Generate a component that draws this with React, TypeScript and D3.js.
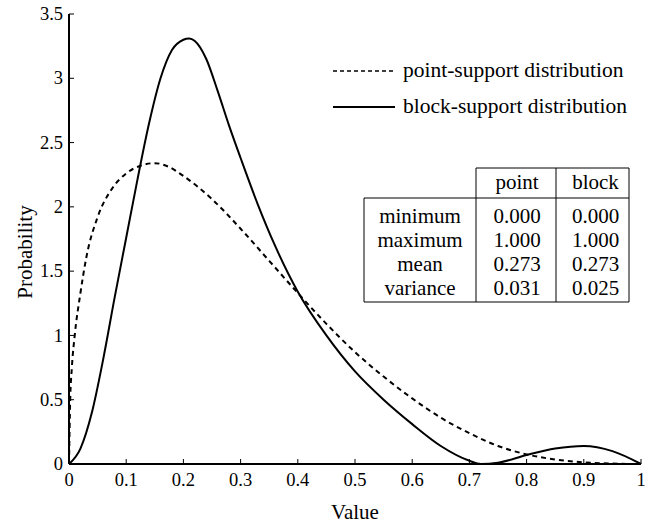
import React from "react";
import * as d3 from "d3";

// point-support distribution (dashed)
const pointX = [0, 0.002, 0.005, 0.01, 0.02, 0.03, 0.05, 0.075, 0.1, 0.125, 0.15, 0.175, 0.2, 0.25, 0.3, 0.35, 0.4, 0.45, 0.5, 0.55, 0.6, 0.65, 0.7, 0.75, 0.8, 0.85, 0.9, 0.95, 1];
const pointY = [0, 0.48, 0.75, 1.0, 1.33, 1.6, 1.92, 2.14, 2.26, 2.32, 2.34, 2.31, 2.24, 2.06, 1.83, 1.58, 1.33, 1.09, 0.87, 0.68, 0.51, 0.36, 0.24, 0.14, 0.075, 0.035, 0.013, 0.003, 0];

// block-support distribution (solid)
const blockX = [0, 0.02, 0.04, 0.06, 0.08, 0.1, 0.12, 0.14, 0.16, 0.18, 0.2, 0.21, 0.22, 0.24, 0.26, 0.28, 0.3, 0.33, 0.36, 0.4, 0.45, 0.5, 0.55, 0.6, 0.65, 0.7, 0.72, 0.75, 0.8, 0.85, 0.9, 0.95, 1];
const blockY = [0, 0.12, 0.4, 0.82, 1.3, 1.76, 2.22, 2.65, 3.0, 3.22, 3.3, 3.31, 3.29, 3.15, 2.9, 2.63, 2.38, 2.02, 1.7, 1.34, 1.0, 0.72, 0.5, 0.31, 0.14, 0.025, 0, 0.01, 0.07, 0.12, 0.14, 0.1, 0];

const xTicks = [0, 0.1, 0.2, 0.3, 0.4, 0.5, 0.6, 0.7, 0.8, 0.9, 1];
const yTicks = [0, 0.5, 1, 1.5, 2, 2.5, 3, 3.5];

const legendLabels = ["point-support distribution", "block-support distribution"];

const tableCols = ["point", "block"];
const tableRows = ["minimum", "maximum", "mean", "variance"];
const pointStats = ["0.000", "1.000", "0.273", "0.031"];
const blockStats = ["0.000", "1.000", "0.273", "0.025"];

const FONT = "Liberation Serif";
const W = 645, H = 527;
const margin = { left: 69, top: 14, right: 4, bottom: 63 };

export default function App() {
  const x = d3.scaleLinear().domain([0, 1]).range([margin.left, W - margin.right]);
  const y = d3.scaleLinear().domain([0, 3.5]).range([H - margin.bottom, margin.top]);

  const pointLine = d3
    .line<number>()
    .x(d => x(d))
    .y((d, i) => y(pointY[i]))
    .curve(d3.curveMonotoneX);
  const blockLine = d3
    .line<number>()
    .x(d => x(d))
    .y((d, i) => y(blockY[i]))
    .curve(d3.curveMonotoneX);

  // table frame
  const tL = 364, tC1 = 476, tC2 = 556, tR = 629, tTop = 168, tHead = 198, tBot = 302;
  const colCx = [(tC1 + tC2) / 2 + 1, (tC2 + tR) / 2 + 3];

  return (
    <svg width={W} height={H} style={{ position: "absolute", left: 0, top: 0, background: "#fff" }}>
      {/* curves */}
      <path d={pointLine(pointX) || ""} fill="none" stroke="#000" strokeWidth={2} strokeDasharray="5,4" />
      <path d={blockLine(blockX) || ""} fill="none" stroke="#000" strokeWidth={2} />

      {/* x axis */}
      <g transform={`translate(0,${y(0)})`}>
        <line x1={x(0)} x2={x(1)} stroke="#000" strokeWidth={2} />
        {xTicks.map(t => (
          <g key={t} transform={`translate(${x(t)},0)`}>
            <line y2={-5} stroke="#000" />
            <text y={22} textAnchor="middle" fontFamily={FONT} fontSize={18.5}>
              {String(t)}
            </text>
          </g>
        ))}
      </g>

      {/* y axis */}
      <g transform={`translate(${x(0)},0)`}>
        <line y1={y(0)} y2={y(3.5)} stroke="#000" strokeWidth={2} />
        {yTicks.map(t => (
          <g key={t} transform={`translate(0,${y(t)})`}>
            <line x2={5} stroke="#000" />
            <text x={-6} dy="0.33em" textAnchor="end" fontFamily={FONT} fontSize={18.5}>
              {String(t)}
            </text>
          </g>
        ))}
      </g>

      {/* axis titles */}
      <text x={(x(0) + x(1)) / 2} y={519} textAnchor="middle" fontFamily={FONT} fontSize={21}>
        Value
      </text>
      <text transform="translate(32,252) rotate(-90)" textAnchor="middle" fontFamily={FONT} fontSize={21}>
        Probability
      </text>

      {/* legend */}
      {legendLabels.map((label, i) => {
        const ly = 71 + i * 36;
        return (
          <g key={label}>
            <line
              x1={333}
              x2={395}
              y1={ly}
              y2={ly}
              stroke="#000"
              strokeWidth={i === 0 ? 1.6 : 2}
              strokeDasharray={i === 0 ? "4,3" : undefined}
            />
            <text x={403} y={ly + 6} fontFamily={FONT} fontSize={21.5}>
              {label}
            </text>
          </g>
        );
      })}

      {/* stats table */}
      <path
        d={`M${tC1},${tBot}V${tTop}H${tR}V${tBot}H${tL}V${tHead}H${tR}M${tC2},${tTop}V${tBot}`}
        fill="none"
        stroke="#000"
        strokeWidth={1}
      />
      {tableCols.map((c, j) => (
        <text key={c} x={colCx[j]} y={189} textAnchor="middle" fontFamily={FONT} fontSize={21}>
          {c}
        </text>
      ))}
      {tableRows.map((r, i) => {
        const ry = 223 + i * 24;
        return (
          <g key={r} fontFamily={FONT} fontSize={21} textAnchor="middle">
            <text x={(tL + tC1) / 2} y={ry}>{r}</text>
            <text x={colCx[0]} y={ry}>{pointStats[i]}</text>
            <text x={colCx[1]} y={ry}>{blockStats[i]}</text>
          </g>
        );
      })}
    </svg>
  );
}
